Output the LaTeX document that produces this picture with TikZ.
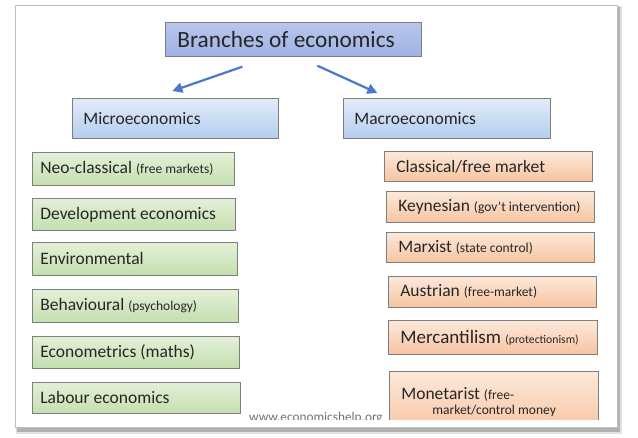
\documentclass[tikz,border=0pt]{standalone}
\usepackage{fontspec}
\setmainfont{Carlito}
\usepackage{xcolor}
\usetikzlibrary{arrows.meta}

\definecolor{edgegray}{HTML}{7F7F7F}
\definecolor{titletop}{HTML}{B8C6EC}
\definecolor{titlebottom}{HTML}{9FB3E3}
\definecolor{branchtop}{HTML}{E3ECF8}
\definecolor{branchbottom}{HTML}{B3CDEE}
\definecolor{greentop}{HTML}{E4F0D8}
\definecolor{greenbottom}{HTML}{C4DFAE}
\definecolor{orangetop}{HTML}{FCE9DB}
\definecolor{orangebottom}{HTML}{F7C4A0}
\definecolor{arrowblue}{HTML}{4A78C8}

\newcommand{\mainsize}{\fontsize{17.5bp}{20bp}\selectfont}
\newcommand{\notesize}{\fontsize{13.5bp}{16bp}\selectfont}
\newcommand{\tinynote}{\fontsize{11.7bp}{14bp}\selectfont}

\begin{document}
\begin{tikzpicture}[x=1bp,y=-1bp,
  box/.style={draw=edgegray, line width=0.7bp, anchor=north west, align=flush left,
    inner ysep=1bp, text=black!85, font=\mainsize},
  titlebox/.style={box, top color=titletop, bottom color=titlebottom,
    minimum height=34bp, inner xsep=12bp, font=\fontsize{23.3bp}{28bp}\selectfont},
  branchbox/.style={box, top color=branchtop, bottom color=branchbottom,
    minimum height=40bp, inner xsep=11bp},
  microbox/.style={box, top color=greentop, bottom color=greenbottom,
    minimum height=32bp, inner xsep=8bp},
  macrobox/.style={box, top color=orangetop, bottom color=orangebottom,
    inner xsep=12bp},
  branch/.style={draw=arrowblue, line width=2.2bp,
    -{Triangle[length=10bp,width=10bp]}}]
\useasboundingbox (0,0) rectangle (638,438);

% card with its shadow
\fill [black!12] (16,6) rectangle (622,434);
\fill [black!30] (17,7) rectangle (620,432);
\filldraw [fill=white, draw=black!25] (15,5) rectangle (617,427);

\node (branches) [titlebox, text width=232bp] at (165,22) {Branches of economics};
\node (micro) [branchbox, text width=184bp] at (72,98) {Microeconomics};
\node (macro) [branchbox, text width=185bp] at (343,98) {Macroeconomics};

\draw [branch] ([xshift=-51bp,yshift=-10bp]branches.south) -- ([xshift=-3bp,yshift=7bp]micro.north);
\draw [branch] ([xshift=24bp,yshift=-9bp]branches.south) -- ([xshift=-69.5bp,yshift=5bp]macro.north);

% micro schools
\node (neo) [microbox, text width=186bp, minimum height=33bp] at (32,152) {Neo-classical {\notesize (free markets)}};
\node (development) [microbox, text width=187bp] at (32,198) {Development economics};
\node (environmental) [microbox, text width=189bp, minimum height=33bp] at (32,242) {Environmental};
\node (behavioural) [microbox, text width=190bp, minimum height=33bp] at (32,289) {Behavioural {\notesize (psychology)}};
\node (econometrics) [microbox, text width=191bp] at (32,336) {Econometrics (maths)};
\node (labour) [microbox, text width=192bp, minimum height=31bp] at (32,382) {Labour economics};

% macro schools
\node (classical) [macrobox, text width=184bp, minimum height=30bp] at (384,151) {Classical/free market};
\node (keynesian) [macrobox, text width=184bp, minimum height=31bp] at (386,191) {Keynesian {\notesize (gov't intervention)}};
\node (marxist) [macrobox, text width=184bp, minimum height=30bp] at (386,232) {Marxist {\notesize (state control)}};
\node (austrian) [macrobox, text width=184bp, minimum height=31bp] at (388,276) {Austrian {\notesize (free-market)}};
\node (mercantilism) [macrobox, text width=185bp, minimum height=34bp,
  font=\fontsize{19bp}{22bp}\selectfont] at (388,320) {Mercantilism {\tinynote (protectionism)}};

% bottom row runs under the edge of the picture
\begin{scope}
\clip (15,5) rectangle (617,419.5);
\node (monetarist) [macrobox, text width=185bp, minimum height=61bp,
  font=\fontsize{17.5bp}{15bp}\selectfont] at (389,371)
  {Monetarist {\notesize (free-}\\\hspace*{31bp}{\notesize market/control money}};
\node (web) [anchor=base, text=black!55, font=\fontsize{13.3bp}{15bp}\selectfont] at (316,421) {www.economicshelp.org};
\end{scope}
\end{tikzpicture}
\end{document}
